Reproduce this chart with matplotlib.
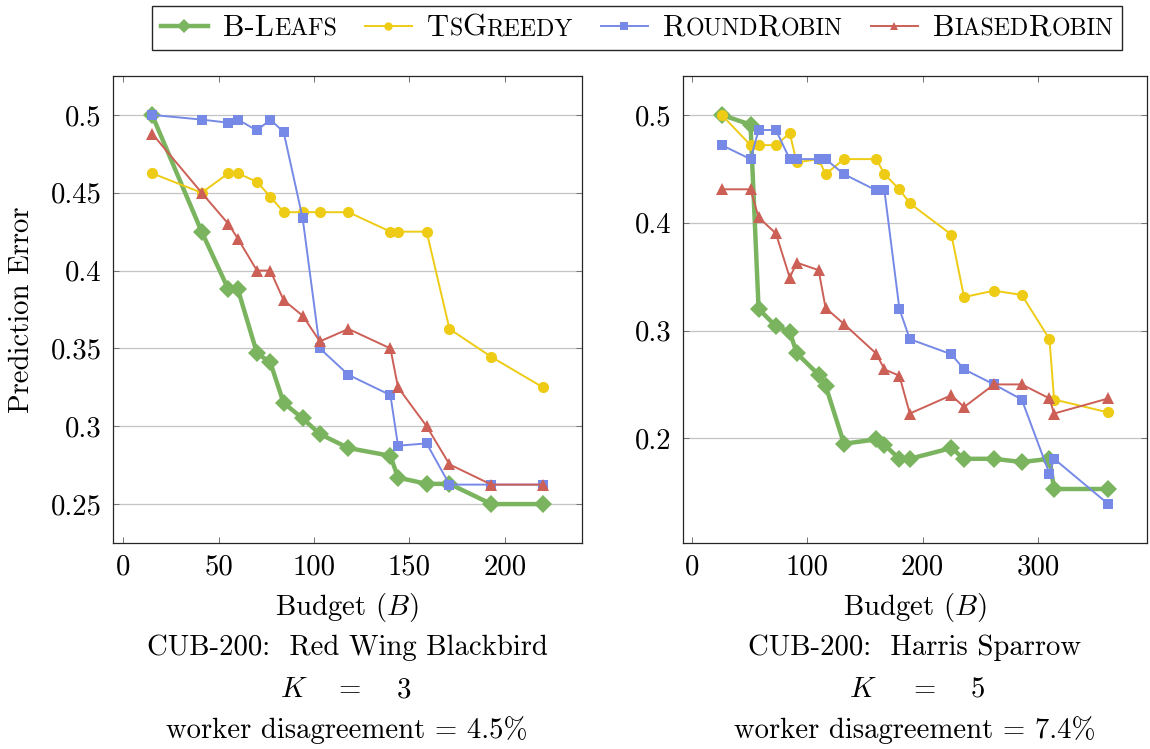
import matplotlib
matplotlib.use('Agg')
import matplotlib.pyplot as plt
from matplotlib.lines import Line2D
from matplotlib.offsetbox import AnchoredOffsetbox, DrawingArea, HPacker, TextArea
from matplotlib.ticker import FixedLocator, FuncFormatter

plt.rcParams['font.family'] = 'cmr10'
plt.rcParams['mathtext.fontset'] = 'cm'
plt.rcParams['axes.formatter.use_mathtext'] = True

# ---------------------------------------------------------------------------
# Data: Red Wing Blackbird (K = 3)
# ---------------------------------------------------------------------------
budget_l = [15, 41, 55, 60, 70, 77, 84, 94, 103, 118, 140, 144, 159, 171, 193, 220]
leafs_l  = [0.500, 0.425, 0.388, 0.388, 0.347, 0.341, 0.315, 0.305, 0.295, 0.286,
            0.281, 0.267, 0.263, 0.263, 0.250, 0.250]
greedy_l = [0.4625, 0.450, 0.4625, 0.4625, 0.457, 0.4475, 0.4375, 0.4375, 0.4375,
            0.4375, 0.425, 0.425, 0.425, 0.3625, 0.3445, 0.325]
round_l  = [0.500, 0.497, 0.495, 0.497, 0.490, 0.497, 0.489, 0.4335, 0.350, 0.333,
            0.320, 0.2875, 0.289, 0.2625, 0.2625, 0.2625]
biased_l = [0.488, 0.450, 0.430, 0.4205, 0.400, 0.400, 0.381, 0.371, 0.3545, 0.3625,
            0.350, 0.325, 0.300, 0.2755, 0.2625, 0.2625]
xticks_l = [0, 50, 100, 150, 200]
yticks_l = [0.25, 0.30, 0.35, 0.40, 0.45, 0.50]

# ---------------------------------------------------------------------------
# Data: Harris Sparrow (K = 5)
# ---------------------------------------------------------------------------
budget_r = [26, 51, 58, 73, 85, 91, 110, 116, 132, 160, 167, 180, 189, 225, 236,
            262, 286, 310, 314, 361]
leafs_r  = [0.500, 0.491, 0.320, 0.304, 0.299, 0.279, 0.259, 0.249, 0.195, 0.199,
            0.194, 0.181, 0.181, 0.191, 0.181, 0.181, 0.178, 0.181, 0.153, 0.153]
greedy_r = [0.500, 0.472, 0.472, 0.472, 0.483, 0.456, 0.459, 0.445, 0.459, 0.459,
            0.445, 0.431, 0.418, 0.389, 0.331, 0.337, 0.333, 0.292, 0.236, 0.224]
round_r  = [0.472, 0.459, 0.486, 0.486, 0.459, 0.459, 0.459, 0.459, 0.445, 0.430,
            0.430, 0.320, 0.292, 0.278, 0.264, 0.250, 0.236, 0.167, 0.181, 0.139]
biased_r = [0.431, 0.431, 0.405, 0.390, 0.349, 0.363, 0.356, 0.321, 0.306, 0.2785,
            0.264, 0.258, 0.223, 0.240, 0.229, 0.250, 0.250, 0.237, 0.223, 0.237]
xticks_r = [0, 100, 200, 300]
yticks_r = [0.2, 0.3, 0.4, 0.5]

# legend names split into (text, is_capital) pieces for small caps
names = [
    [('B-L', True), ('EAFS', False)],
    [('T', True), ('S', False), ('G', True), ('REEDY', False)],
    [('R', True), ('OUND', False), ('R', True), ('OBIN', False)],
    [('B', True), ('IASED', False), ('R', True), ('OBIN', False)],
]

# style per method: colour, marker, markersize, linewidth
styles = [
    ('#7bb45f', 'D', 9.0, 3.2),
    ('#eecb14', 'o', 8.0, 1.4),
    ('#7689e6', 's', 7.5, 1.4),
    ('#cc5f56', '^', 8.5, 1.4),
]

FS = 20.7
LEG_FS = 22
W, H = 1150, 749


def px(x, y):
    return x / W, 1 - y / H


fig = plt.figure(figsize=(W / 100, H / 100), dpi=100)
ax_l = fig.add_axes([113 / W, 1 - 543 / H, 469 / W, 467 / H])
ax_r = fig.add_axes([683 / W, 1 - 543 / H, 464 / W, 467 / H])

panels = [
    (ax_l, budget_l, [leafs_l, greedy_l, round_l, biased_l], xticks_l, yticks_l),
    (ax_r, budget_r, [leafs_r, greedy_r, round_r, biased_r], xticks_r, yticks_r),
]

for ax, budget, series, xt, yt in panels:
    for ys, (col, mk, ms, lw) in zip(series, styles):
        ax.plot(budget, ys, color=col, marker=mk, markersize=ms, lw=lw,
                markeredgewidth=0, solid_joinstyle='round')
    ax.margins(0.1)
    ax.xaxis.set_major_locator(FixedLocator(xt))
    ax.yaxis.set_major_locator(FixedLocator(yt))
    ax.yaxis.set_major_formatter(FuncFormatter(lambda v, p: f'{v:g}'))
    ax.xaxis.set_major_formatter(FuncFormatter(lambda v, p: f'{v:g}'))
    ax.tick_params(direction='in', top=True, right=True, length=4.5, width=0.7,
                   color='0.45', labelsize=FS, pad=8)
    ax.grid(axis='y', color='#c4c4c4', lw=0.9)
    ax.set_axisbelow(True)
    for s in ax.spines.values():
        s.set_linewidth(0.9)
        s.set_color('0.15')

# text under each panel
captions = [
    (347, 'CUB-200:  Red Wing Blackbird', '3', 'worker disagreement = 4.5%', (-53, 3, 57)),
    (915, 'CUB-200:  Harris Sparrow', '5', 'worker disagreement = 7.4%', (-52, 10, 63)),
]
for cx, title, k, disagree, offs in captions:
    fig.text(*px(cx, 607), r'Budget ($B$)', ha='center', va='center', size=FS)
    fig.text(*px(cx, 648), title, ha='center', va='center', size=FS)
    fig.text(*px(cx + offs[0], 690), r'$K$', ha='center', va='center', size=FS)
    fig.text(*px(cx + offs[1], 690), '=', ha='center', va='center', size=FS)
    fig.text(*px(cx + offs[2], 690), k, ha='center', va='center', size=FS)
    fig.text(*px(cx, 730), disagree, ha='center', va='center', size=FS)

fig.text(*px(22, 310), 'Prediction Error', rotation=90, ha='center', va='center', size=FS)

# legend with small-caps labels built from offset boxes
items = []
for pieces, (col, mk, ms, lw) in zip(names, styles):
    da = DrawingArea(34, 14, 0, 1)
    da.add_artist(Line2D([0, 34], [7, 7], color=col, lw=lw))
    da.add_artist(Line2D([17], [7], color=col, marker=mk, markersize=ms * 0.75,
                         markeredgewidth=0))
    txt = [TextArea(t, textprops=dict(size=LEG_FS if cap else LEG_FS * 0.78))
           for t, cap in pieces]
    label = HPacker(children=txt, align='baseline', pad=0, sep=0)
    items.append(HPacker(children=[da, label], align='baseline', pad=0, sep=11))

row = HPacker(children=items, align='baseline', pad=0, sep=20)
leg = AnchoredOffsetbox(loc='center', child=row, pad=0.3, borderpad=0,
                        prop=dict(size=FS), frameon=True,
                        bbox_to_anchor=px(637, 28), bbox_transform=fig.transFigure)
leg.patch.set_linewidth(1.0)
leg.patch.set_edgecolor('0.15')
leg.patch.set_boxstyle('square', pad=0)
fig.add_artist(leg)

fig.savefig('out.png', dpi=100)
